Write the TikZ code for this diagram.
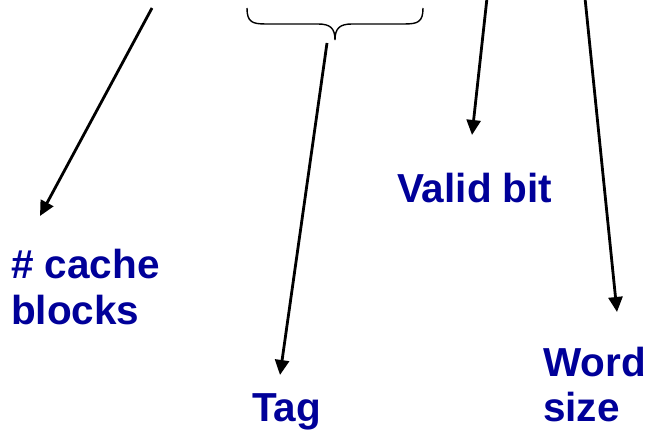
\documentclass[tikz,border=0pt]{standalone}
\usepackage{fontspec}
\setmainfont{Liberation Sans}
\usetikzlibrary{arrows.meta}
\definecolor{labelblue}{RGB}{0,0,153}
\begin{document}
\begin{tikzpicture}[x=1pt,y=-1pt,
  label text/.style={text=labelblue,inner sep=0pt,align=left,
    font=\fontsize{40.5}{46}\selectfont\bfseries},
  pointer/.style={draw=black,line width=2.8pt,
    -{Triangle[length=15pt,width=14pt]}},
  brace line/.style={draw=black,line width=1.4pt}]
\useasboundingbox (0,0) rectangle (648,435);

% labels (base anchor sits on the last line of a two-line label)
\node[label text,anchor=base west] (blocks) at (11,325) {\# cache\\blocks};
\node[label text,anchor=base west] (valid) at (397,203) {Valid bit};
\node[label text,anchor=base west] (tag) at (252,422) {Tag};
\node[label text,anchor=base west] (word) at (543,422) {Word\\size};

% arrow endpoints
\coordinate (blocksFrom) at (152,8);
\coordinate (blocksTo) at (40,216);
\coordinate (braceTip) at (335,40);
\coordinate (tagFrom) at (327,43);
\coordinate (tagTo) at (280,375);
\coordinate (validFrom) at (487,-2);
\coordinate (validTo) at (472,135);
\coordinate (wordFrom) at (585,-2);
\coordinate (wordTo) at (617,312);

% curly brace over the tag field
\draw[brace line] (247,8) .. controls (247,22) and (252,24) .. (266,24)
  -- (318,24) .. controls (330,24) and (335,28) .. (braceTip)
  .. controls (335,28) and (340,24) .. (352,24)
  -- (404,24) .. controls (418,24) and (423,22) .. (423,8);

% pointers
\draw[pointer] (blocksFrom) -- (blocksTo);
\draw[pointer] (tagFrom) -- (tagTo);
\draw[pointer] (validFrom) -- (validTo);
\draw[pointer] (wordFrom) -- (wordTo);
\end{tikzpicture}
\end{document}
